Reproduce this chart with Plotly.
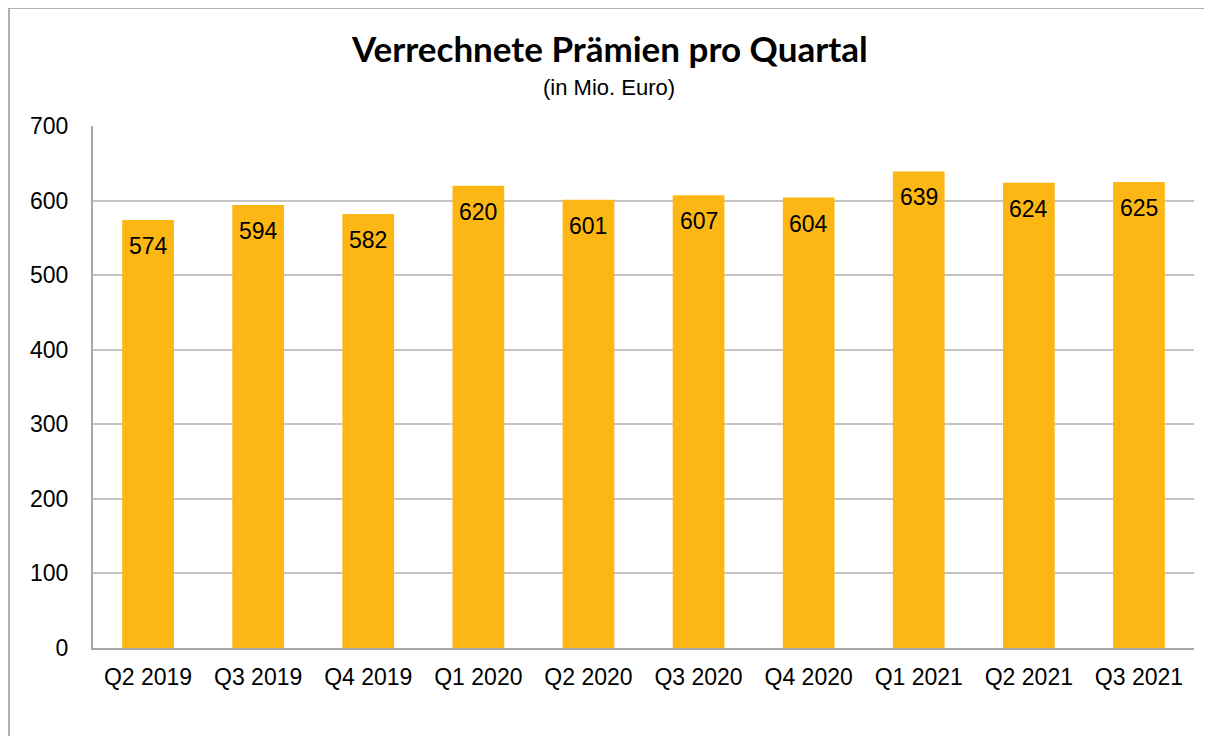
import plotly.graph_objects as go

categories = ["Q2 2019", "Q3 2019", "Q4 2019", "Q1 2020", "Q2 2020",
              "Q3 2020", "Q4 2020", "Q1 2021", "Q2 2021", "Q3 2021"]
values = [574, 594, 582, 620, 601, 607, 604, 639, 624, 625]
y_ticks = [0, 100, 200, 300, 400, 500, 600, 700]

BAR_COLOR = "#FDB714"
FONT = "Liberation Sans, Arial, sans-serif"

fig = go.Figure()
fig.add_trace(go.Bar(
    x=categories, y=values,
    marker=dict(color=BAR_COLOR, line=dict(width=0)),
    hoverinfo="x+y",
))

for c, v in zip(categories, values):
    fig.add_annotation(x=c, y=v, text=str(v), showarrow=False,
                       yanchor="top", yshift=-11,
                       font=dict(family=FONT, size=23, color="black"))

# Title and subtitle
fig.add_annotation(xref="paper", yref="paper", x=0.4687, y=1.1495,
                   xanchor="center", yanchor="middle", showarrow=False,
                   text="<b>Verrechnete Prämien pro Quartal</b>",
                   font=dict(family="Lato, Open Sans, sans-serif", size=35, color="black"))
fig.add_annotation(xref="paper", yref="paper", x=0.4687, y=1.0728,
                   xanchor="center", yanchor="middle", showarrow=False,
                   text="(in Mio. Euro)",
                   font=dict(family=FONT, size=22, color="black"))

# Outer chart border (left and top visible)
bx = (9 - 93) / 1101
by = (648 - 8) / 522
fig.add_shape(type="line", xref="paper", yref="paper", x0=bx, x1=bx, y0=-0.3, y1=by,
              line=dict(color="#b0b0b0", width=2))
fig.add_shape(type="line", xref="paper", yref="paper", x0=bx, x1=1.2, y0=by, y1=by,
              line=dict(color="#b0b0b0", width=2))

fig.update_layout(
    width=1204, height=728,
    margin=dict(l=85, r=18, t=118, b=88),
    paper_bgcolor="white", plot_bgcolor="white",
    bargap=0.53,
    showlegend=False,
    font=dict(family=FONT, size=23, color="black"),
    xaxis=dict(showgrid=False, showline=True, linecolor="#a6a6a6", linewidth=2,
               ticks="", tickfont=dict(size=23), ticklabelstandoff=7),
    yaxis=dict(range=[0, 700], tickvals=y_ticks, showgrid=True, gridcolor="#c4c4c4",
               gridwidth=2, showline=True, linecolor="#a6a6a6", linewidth=2,
               ticks="", tickfont=dict(size=23), ticklabelstandoff=18, zeroline=False),
)

fig.write_html("out.html")
